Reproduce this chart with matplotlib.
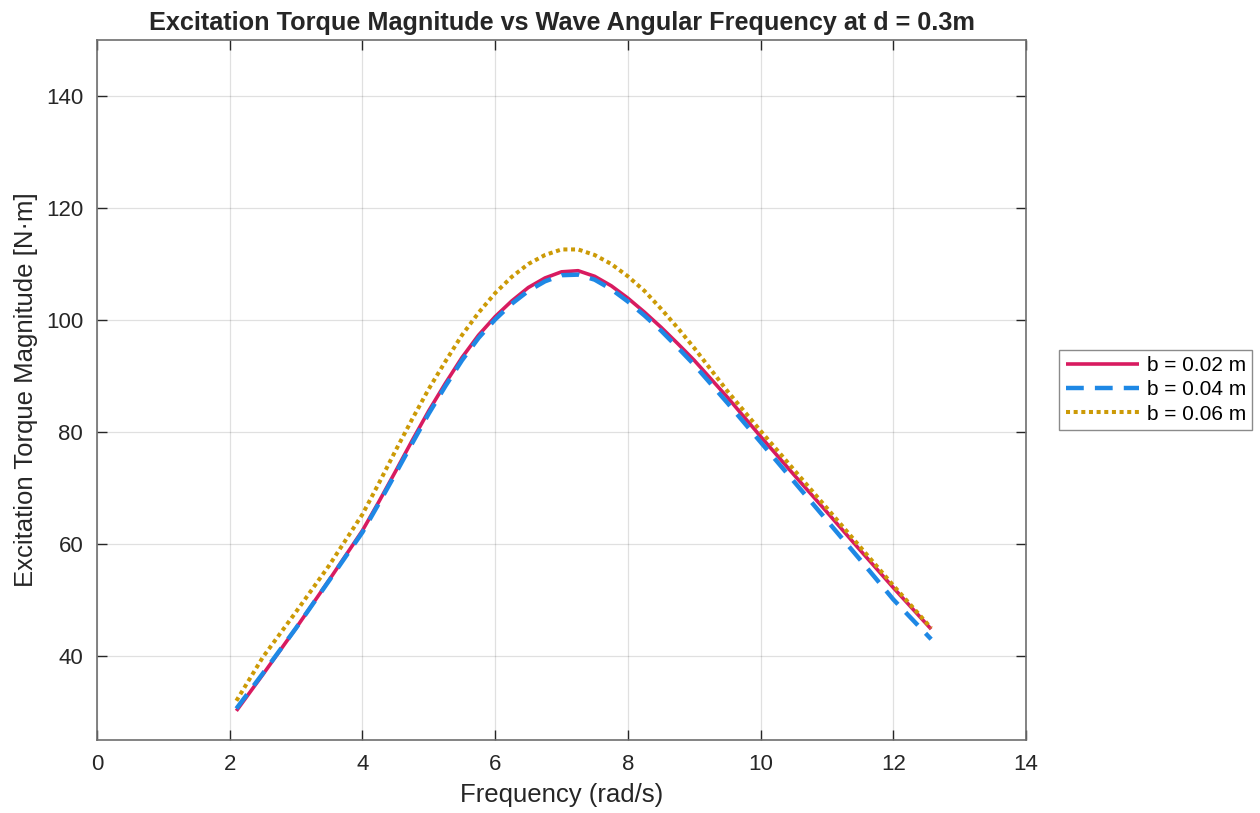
import matplotlib
matplotlib.use("Agg")
import matplotlib.pyplot as plt

plt.rcParams['font.family'] = ['Liberation Sans', 'DejaVu Sans']

freq = [2.1, 2.5, 3.0, 3.5, 4.0, 4.25, 4.5, 4.75, 5.0, 5.25, 5.5, 5.75, 6.0,
        6.25, 6.5, 6.75, 7.0, 7.25, 7.5, 7.75, 8.0, 8.25, 8.5, 8.75, 9.0,
        9.5, 10.0, 10.5, 11.0, 11.5, 12.0, 12.57]
torque_b002 = [30.2, 36.7, 45.0, 53.6, 62.4, 67.6, 73.0, 78.5, 83.8, 88.7, 93.3,
               97.3, 100.6, 103.4, 105.8, 107.5, 108.6, 108.8, 107.8, 106.1,
               103.9, 101.4, 98.7, 95.8, 92.8, 86.2, 79.2, 72.4, 65.7, 58.9,
               52.2, 44.8]
torque_b004 = [30.6, 36.9, 45.0, 53.5, 62.1, 67.3, 72.6, 78.0, 83.3, 88.2, 92.8,
               96.8, 100.1, 102.9, 105.2, 106.9, 108.0, 108.1, 107.2, 105.5,
               103.3, 100.8, 98.1, 95.1, 92.0, 85.2, 78.2, 71.2, 64.2, 57.2,
               50.1, 43.0]
torque_b006 = [32.0, 39.8, 47.9, 56.2, 65.3, 70.9, 76.7, 82.3, 87.7, 92.6, 97.3,
               101.3, 104.8, 107.7, 110.0, 111.6, 112.6, 112.6, 111.6, 110.0,
               107.8, 105.2, 102.0, 98.6, 95.0, 87.3, 80.2, 73.3, 66.4, 59.5,
               52.6, 45.0]
labels = ['b = 0.02 m', 'b = 0.04 m', 'b = 0.06 m']
xticks = [0, 2, 4, 6, 8, 10, 12, 14]
yticks = [40, 60, 80, 100, 120, 140]

fig = plt.figure(figsize=(12.6, 8.13), dpi=100)
ax = fig.add_axes([0.077, 0.0898, 0.7373, 0.861])

ax.plot(freq, torque_b002, color='#D81B60', lw=2.6, label=labels[0],
        solid_capstyle='butt', solid_joinstyle='round')
ax.plot(freq, torque_b004, color='#1E88E5', lw=3.2, dashes=(4.0, 2.5),
        label=labels[1], dash_capstyle='butt', dash_joinstyle='round')
ax.plot(freq, torque_b006, color='#CC9A06', lw=2.9, dashes=(1.0, 0.9),
        label=labels[2], dash_capstyle='butt', dash_joinstyle='round')

ax.set_xlim(0, 14)
ax.set_ylim(25, 150)
ax.set_xticks(xticks)
ax.set_yticks(yticks)
ax.grid(True, color='#000000', alpha=0.12, lw=0.9)
ax.set_axisbelow(True)
ax.tick_params(direction='in', length=7, width=1.0, top=True, right=True,
               labelsize=16, colors='#262626', pad=10)
for s in ax.spines.values():
    s.set_color('#6e6e6e')
    s.set_linewidth(1.2)

ax.set_xlabel('Frequency (rad/s)', fontsize=18.5, color='#262626', labelpad=6)
ax.set_ylabel('Excitation Torque Magnitude [N·m]', fontsize=18.5, color='#262626',
              labelpad=6)
ax.set_title('Excitation Torque Magnitude vs Wave Angular Frequency at d = 0.3m',
             fontsize=18.2, fontweight='bold', color='#262626', pad=7)

leg = ax.legend(loc='center left', bbox_to_anchor=(1.036, 0.5), fontsize=15,
                frameon=True, fancybox=False, edgecolor='#6e6e6e',
                handlelength=3.5, borderpad=0.3, labelspacing=0.25,
                handletextpad=0.4, borderaxespad=0)
leg.get_frame().set_linewidth(1.0)

fig.savefig('out.png', dpi=100)
